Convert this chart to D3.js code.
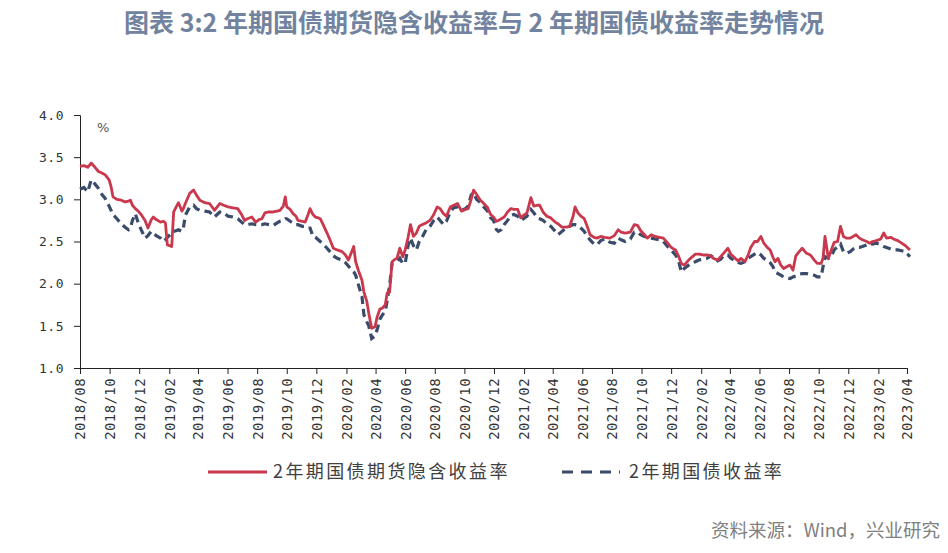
<!DOCTYPE html>
<html><head><meta charset="utf-8">
<script src="https://cdn.jsdelivr.net/npm/d3@7"></script>
<style>body{margin:0;background:#fff}svg{display:block}</style>
</head><body><svg id="c" width="948" height="553"></svg>
<script>
const dates = [
"2018-08-01","2018-08-09","2018-08-17","2018-08-24","2018-09-01","2018-09-08","2018-09-16","2018-09-22","2018-09-30","2018-10-04",
"2018-10-08","2018-10-16","2018-10-25","2018-11-02","2018-11-09","2018-11-13","2018-11-17","2018-11-23","2018-11-29","2018-12-05",
"2018-12-13","2018-12-19","2018-12-26","2018-12-30","2019-01-05","2019-01-14","2019-01-20","2019-01-24","2019-01-28","2019-02-06",
"2019-02-10","2019-02-16","2019-02-20","2019-02-27","2019-03-02","2019-03-06","2019-03-15","2019-03-23","2019-03-29","2019-04-05",
"2019-04-15","2019-04-25","2019-05-05","2019-05-16","2019-05-24","2019-06-02","2019-06-12","2019-06-22","2019-06-30","2019-07-06",
"2019-07-12","2019-07-21","2019-07-29","2019-08-05","2019-08-11","2019-08-17","2019-08-25","2019-09-03","2019-09-11","2019-09-17",
"2019-09-24","2019-09-28","2019-10-01","2019-10-08","2019-10-14","2019-10-20","2019-10-24","2019-11-02","2019-11-08","2019-11-14",
"2019-11-18","2019-11-24","2019-11-29","2019-12-05","2019-12-09","2019-12-15","2019-12-23","2019-12-29","2020-01-05","2020-01-13",
"2020-01-23","2020-01-30","2020-02-05","2020-02-12","2020-02-16","2020-02-20","2020-02-26","2020-03-04","2020-03-08","2020-03-14",
"2020-03-18","2020-03-24","2020-03-31","2020-04-04","2020-04-10","2020-04-15","2020-04-21","2020-04-25","2020-04-30","2020-05-05",
"2020-05-11","2020-05-15","2020-05-21","2020-05-27","2020-06-01","2020-06-07","2020-06-12","2020-06-18","2020-06-24","2020-06-30",
"2020-07-06","2020-07-14","2020-07-22","2020-07-30","2020-08-06","2020-08-12","2020-08-19","2020-08-25","2020-09-02","2020-09-09",
"2020-09-17","2020-09-25","2020-10-03","2020-10-09","2020-10-15","2020-10-20","2020-10-26","2020-11-03","2020-11-10","2020-11-18",
"2020-11-24","2020-11-30","2020-12-06","2020-12-10","2020-12-16","2020-12-22","2020-12-29","2021-01-05","2021-01-11","2021-01-19",
"2021-01-25","2021-01-31","2021-02-07","2021-02-15","2021-02-21","2021-02-28","2021-03-05","2021-03-12","2021-03-20","2021-03-28",
"2021-04-06","2021-04-12","2021-04-20","2021-04-29","2021-05-06","2021-05-13","2021-05-17","2021-05-23","2021-05-29","2021-06-05",
"2021-06-11","2021-06-17","2021-06-25","2021-07-01","2021-07-09","2021-07-17","2021-07-28","2021-08-06","2021-08-14","2021-08-20",
"2021-08-28","2021-09-08","2021-09-16","2021-09-23","2021-09-29","2021-10-07","2021-10-13","2021-10-21","2021-10-29","2021-11-07",
"2021-11-15","2021-11-24","2021-12-01","2021-12-10","2021-12-16","2021-12-22","2021-12-28","2022-01-06","2022-01-14","2022-01-20",
"2022-01-27","2022-02-05","2022-02-13","2022-02-21","2022-02-26","2022-03-07","2022-03-13","2022-03-19","2022-03-28","2022-04-03",
"2022-04-12","2022-04-18","2022-04-24","2022-05-02","2022-05-08","2022-05-14","2022-05-22","2022-05-28","2022-06-04","2022-06-10",
"2022-06-17","2022-06-23","2022-06-29","2022-07-03","2022-07-09","2022-07-15","2022-07-21","2022-07-27","2022-08-03","2022-08-09",
"2022-08-15","2022-08-22","2022-08-28","2022-09-06","2022-09-14","2022-09-22","2022-09-28","2022-10-06","2022-10-10","2022-10-14",
"2022-10-21","2022-10-27","2022-11-02","2022-11-09","2022-11-15","2022-11-21","2022-11-27","2022-12-05","2022-12-11","2022-12-17",
"2022-12-24","2022-12-30","2023-01-08","2023-01-14","2023-01-20","2023-01-28","2023-02-06","2023-02-12","2023-02-18","2023-02-27",
"2023-03-04","2023-03-13","2023-03-21","2023-03-29","2023-04-07"];

const futuresImplied = [
3.39,3.40,3.38,3.43,3.38,3.33,3.31,3.29,3.23,3.15,
3.03,3.00,2.99,2.97,2.98,2.99,2.93,2.89,2.86,2.82,
2.75,2.66,2.76,2.79,2.76,2.73,2.74,2.72,2.46,2.44,
2.85,2.92,2.96,2.86,2.89,2.95,3.07,3.11,3.05,2.99,
2.96,2.95,2.87,2.95,2.93,2.91,2.90,2.89,2.82,2.75,
2.77,2.79,2.73,2.76,2.77,2.84,2.85,2.85,2.86,2.87,
2.92,3.03,2.91,2.88,2.83,2.80,2.75,2.74,2.73,2.82,
2.89,2.82,2.79,2.78,2.77,2.70,2.60,2.52,2.42,2.40,
2.38,2.34,2.28,2.38,2.44,2.26,2.15,2.04,1.90,1.79,
1.65,1.47,1.49,1.60,1.70,1.71,1.75,1.89,1.90,2.26,
2.29,2.30,2.42,2.32,2.40,2.55,2.70,2.56,2.60,2.68,
2.70,2.72,2.75,2.82,2.91,2.89,2.83,2.80,2.91,2.93,
2.95,2.86,2.88,2.89,3.00,3.11,3.06,2.99,2.95,2.90,
2.82,2.79,2.74,2.75,2.77,2.79,2.85,2.89,2.88,2.88,
2.78,2.81,2.84,3.02,2.92,2.93,2.93,2.85,2.80,2.78,
2.73,2.71,2.67,2.67,2.68,2.80,2.91,2.84,2.80,2.77,
2.68,2.58,2.55,2.54,2.56,2.55,2.54,2.57,2.64,2.61,
2.60,2.61,2.70,2.69,2.63,2.58,2.54,2.58,2.56,2.55,
2.54,2.48,2.43,2.40,2.33,2.24,2.22,2.28,2.32,2.35,
2.35,2.34,2.34,2.33,2.30,2.28,2.32,2.36,2.42,2.35,
2.30,2.27,2.30,2.26,2.33,2.43,2.50,2.50,2.56,2.48,
2.43,2.40,2.31,2.26,2.30,2.22,2.18,2.20,2.22,2.16,
2.33,2.38,2.42,2.36,2.34,2.28,2.24,2.24,2.30,2.56,
2.30,2.40,2.49,2.50,2.68,2.56,2.54,2.54,2.56,2.58,
2.54,2.52,2.50,2.48,2.50,2.51,2.53,2.60,2.54,2.55,
2.53,2.51,2.48,2.45,2.40];

const bondYield = [
3.12,3.14,3.09,3.23,3.18,3.13,3.05,3.01,2.92,2.87,
2.82,2.77,2.71,2.67,2.64,2.66,2.75,2.83,2.72,2.64,
2.54,2.57,2.62,2.60,2.57,2.54,2.50,2.52,2.55,2.60,
2.62,2.63,2.64,2.62,2.66,2.81,2.91,2.93,2.89,2.87,
2.86,2.85,2.79,2.85,2.84,2.80,2.79,2.77,2.73,2.70,
2.70,2.71,2.70,2.70,2.70,2.71,2.70,2.69,2.72,2.74,
2.75,2.77,2.77,2.74,2.72,2.70,2.70,2.68,2.68,2.66,
2.66,2.56,2.55,2.52,2.50,2.47,2.42,2.38,2.33,2.30,
2.28,2.25,2.21,2.16,2.14,2.10,1.98,1.85,1.63,1.55,
1.50,1.35,1.38,1.45,1.58,1.63,1.67,1.80,1.98,2.24,
2.25,2.26,2.30,2.24,2.24,2.45,2.54,2.45,2.40,2.50,
2.55,2.64,2.68,2.75,2.79,2.75,2.70,2.74,2.85,2.90,
2.91,2.87,2.89,2.92,3.05,3.08,3.00,2.96,2.91,2.86,
2.78,2.75,2.64,2.62,2.64,2.70,2.75,2.81,2.82,2.80,
2.75,2.77,2.80,2.88,2.84,2.78,2.77,2.75,2.71,2.68,
2.62,2.58,2.62,2.66,2.68,2.70,2.70,2.69,2.66,2.62,
2.56,2.52,2.47,2.46,2.51,2.53,2.49,2.48,2.54,2.52,
2.50,2.53,2.61,2.61,2.58,2.56,2.55,2.54,2.53,2.52,
2.50,2.44,2.40,2.34,2.28,2.14,2.18,2.22,2.25,2.26,
2.28,2.29,2.30,2.33,2.31,2.27,2.29,2.33,2.34,2.30,
2.27,2.25,2.24,2.26,2.30,2.32,2.35,2.37,2.34,2.30,
2.28,2.25,2.20,2.14,2.12,2.10,2.08,2.07,2.06,2.08,
2.09,2.11,2.12,2.12,2.11,2.10,2.08,2.08,2.20,2.32,
2.30,2.33,2.40,2.44,2.47,2.38,2.36,2.38,2.41,2.43,
2.43,2.44,2.46,2.48,2.47,2.48,2.46,2.44,2.43,2.41,
2.40,2.40,2.39,2.38,2.32];

const yTicks = [1.0, 1.5, 2.0, 2.5, 3.0, 3.5, 4.0];
const xTickLabels = ["2018/08","2018/10","2018/12","2019/02","2019/04","2019/06","2019/08","2019/10","2019/12",
"2020/02","2020/04","2020/06","2020/08","2020/10","2020/12","2021/02","2021/04","2021/06","2021/08","2021/10","2021/12",
"2022/02","2022/04","2022/06","2022/08","2022/10","2022/12","2023/02","2023/04"];
const seriesNames = ["2年期国债期货隐含收益率", "2年期国债收益率"];
const titleText = "图表 3:2 年期国债期货隐含收益率与 2 年期国债收益率走势情况";
const unitText = "%";
const sourceText = "资料来源：Wind，兴业研究";

const svg = d3.select("#c");
const parse = d3.timeParse("%Y-%m-%d");
const parseTick = d3.timeParse("%Y/%m");
const L = 80, R = 907, T = 115, B = 368;

const x = d3.scaleTime().domain([parseTick(xTickLabels[0]), parseTick(xTickLabels[xTickLabels.length-1])]).range([L, R]);
const y = d3.scaleLinear().domain([1, 4]).range([B, T]);

const RED = "#c9384c", BLUE = "#3b4b6b";

svg.append("text").attr("x", 474).attr("y", 32).attr("text-anchor", "middle")
  .attr("font-family", "'Noto Sans CJK SC', sans-serif").attr("font-weight", "bold")
  .attr("font-size", 25).attr("fill", "#7283a0").text(titleText);

// axes
const yAxis = d3.axisLeft(y).tickValues(yTicks).tickSize(6).tickPadding(10).tickFormat(d3.format(".1f"));
const gy = svg.append("g").attr("transform", `translate(${L},0)`).call(yAxis);
gy.select(".domain").attr("stroke", "#222");
gy.selectAll(".tick line").attr("stroke", "#222");
gy.selectAll(".tick text").attr("font-family", "'DejaVu Sans Mono', monospace").attr("font-size", 13)
  .attr("letter-spacing", 0.5).attr("fill", "#333");

const xAxis = d3.axisBottom(x).tickValues(xTickLabels.map(parseTick)).tickSize(6).tickSizeOuter(0)
  .tickFormat(d3.timeFormat("%Y/%m"));
const gx = svg.append("g").attr("transform", `translate(0,${B})`).call(xAxis);
gx.select(".domain").attr("stroke", "#222");
gx.selectAll(".tick line").attr("stroke", "#222");
gx.selectAll(".tick text").attr("font-family", "'DejaVu Sans Mono', monospace").attr("font-size", 14)
  .attr("letter-spacing", 0.4).attr("fill", "#333")
  .attr("text-anchor", "end").attr("transform", "rotate(-90)").attr("x", -10).attr("y", 0).attr("dy", "0.35em");

svg.append("text").attr("x", 97).attr("y", 132).attr("font-family", "'DejaVu Sans', sans-serif")
  .attr("font-size", 13).attr("fill", "#555").text(unitText);

const dataF = dates.map((d, i) => ({d: parse(d), v: futuresImplied[i]}));
const dataB = dates.map((d, i) => ({d: parse(d), v: bondYield[i]}));
const line = d3.line().x(p => x(p.d)).y(p => y(p.v));

svg.append("path").datum(dataB).attr("d", line).attr("fill", "none").attr("stroke", BLUE)
  .attr("stroke-width", 3.2).attr("stroke-dasharray", "8,5");
svg.append("path").datum(dataF).attr("d", line).attr("fill", "none").attr("stroke", RED)
  .attr("stroke-width", 2.8).attr("stroke-linejoin", "round");

// legend
const lg = svg.append("g");
lg.append("line").attr("x1", 208).attr("x2", 267).attr("y1", 472).attr("y2", 472).attr("stroke", RED).attr("stroke-width", 3);
lg.append("text").attr("x", 273).attr("y", 478).attr("font-family", "'Noto Sans CJK SC', sans-serif")
  .attr("font-size", 18).attr("letter-spacing", 2.4).attr("fill", "#404040").text(seriesNames[0]);
lg.append("line").attr("x1", 562).attr("x2", 620).attr("y1", 472).attr("y2", 472).attr("stroke", BLUE)
  .attr("stroke-width", 3).attr("stroke-dasharray", "11,8");
lg.append("text").attr("x", 629).attr("y", 478).attr("font-family", "'Noto Sans CJK SC', sans-serif")
  .attr("font-size", 18).attr("letter-spacing", 2.4).attr("fill", "#404040").text(seriesNames[1]);

svg.append("text").attr("x", 940).attr("y", 537).attr("text-anchor", "end")
  .attr("font-family", "'Noto Sans CJK SC', sans-serif").attr("font-size", 18.5).attr("fill", "#808080").text(sourceText);
</script></body></html>
